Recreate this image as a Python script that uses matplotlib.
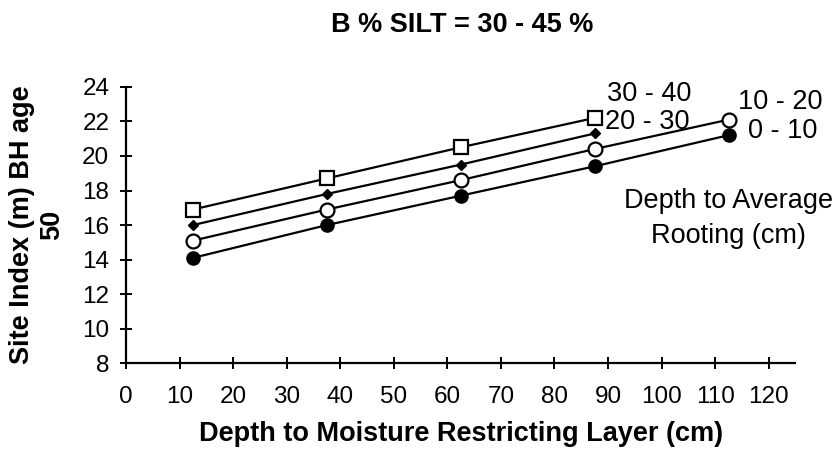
import matplotlib.pyplot as plt

plt.rcParams["font.family"] = ["Liberation Sans", "DejaVu Sans"]

depth_mrl = [12.5, 37.5, 62.5, 87.5, 112.5]

# site index for each depth-to-average-rooting class (cm)
si_0_10 = [14.1, 16.0, 17.7, 19.4, 21.2]
si_10_20 = [15.1, 16.9, 18.6, 20.4, 22.1]
si_20_30 = [16.0, 17.8, 19.5, 21.3]
si_30_40 = [16.9, 18.7, 20.5, 22.2]

x_ticks = list(range(0, 121, 10))
y_ticks = list(range(8, 25, 2))

fig = plt.figure(figsize=(8.4, 4.57), dpi=100)
ax = fig.add_axes([0.150, 0.205, 0.797, 0.605])

line_kw = dict(color="black", lw=1.6)
ax.plot(depth_mrl, si_0_10, marker="o", ms=9.5, mfc="black", mec="black", **line_kw)
ax.plot(depth_mrl, si_10_20, marker="o", ms=10, mfc="white", mec="black",
        mew=1.6, **line_kw)
ax.plot(depth_mrl[:4], si_20_30, marker="D", ms=5.5, mfc="black", mec="black", **line_kw)
ax.plot(depth_mrl[:4], si_30_40, marker="s", ms=10.5, mfc="white", mec="black",
        mew=1.6, **line_kw)

ax.set_xlim(0, 125)
ax.set_ylim(8, 24)
ax.set_xticks(x_ticks)
ax.set_yticks(y_ticks)
ax.tick_params(direction="inout", length=8, width=1.4, labelsize=17.5)
ax.tick_params(axis="x", pad=12)
ax.tick_params(axis="y", pad=8)
for side in ("top", "right"):
    ax.spines[side].set_visible(False)
for side in ("left", "bottom"):
    ax.spines[side].set_linewidth(1.6)

ax.set_xlabel("Depth to Moisture Restricting Layer (cm)", fontsize=19.5,
              fontweight="bold", labelpad=10)
fig.text(0.044, 0.508, "Site Index (m) BH age\n50", rotation=90, ha="center",
         va="center", fontsize=19.5, fontweight="bold", linespacing=1.18,
         multialignment="center")
fig.text(0.55, 0.945, "B % SILT = 30 - 45 %", ha="center", va="center",
         fontsize=19.5, fontweight="bold")

ax.text(89.8, 23.2, "30 - 40", fontsize=19.5, ha="left", va="baseline")
ax.text(89.4, 21.58, "20 - 30", fontsize=19.5, ha="left", va="baseline")
ax.text(114.2, 22.74, "10 - 20", fontsize=19.5, ha="left", va="baseline")
ax.text(116.1, 21.06, "0 - 10", fontsize=19.5, ha="left", va="baseline")
ax.text(112.5, 16.96, "Depth to Average", fontsize=19.5, ha="center", va="baseline")
ax.text(112.5, 14.94, "Rooting (cm)", fontsize=19.5, ha="center", va="baseline")

fig.savefig("out.png", dpi=100)
